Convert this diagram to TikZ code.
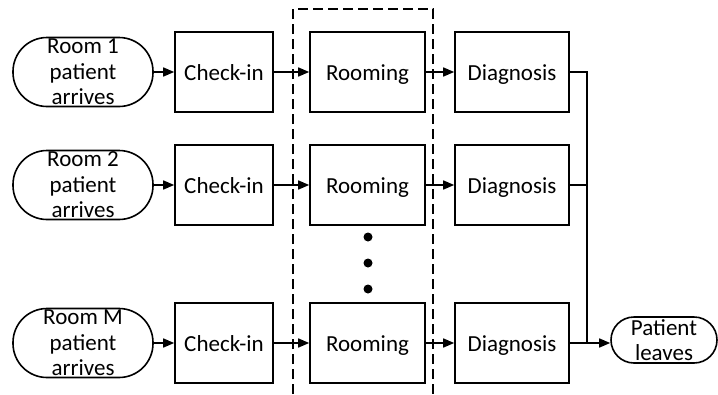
\documentclass[tikz,border=0pt]{standalone}
\usepackage{fontspec}
\setmainfont{Carlito}
\usetikzlibrary{arrows.meta}
\tikzset{
  lw/.style={line width=1.6pt},
  box/.style={draw, lw, minimum height=80pt, inner sep=0pt, text height=16pt, text depth=0pt, font=\fontsize{23}{25.5}\selectfont},
  term/.style={draw, lw, rounded corners=34pt, minimum width=140pt, minimum height=69pt, inner sep=0pt},
  termsmall/.style={draw, lw, rounded corners=23pt, minimum width=106pt, minimum height=46pt, inner sep=0pt},
  ttext/.style={align=center, inner sep=0pt, font=\fontsize{23}{25.5}\selectfont},
  arr/.style={lw, -{Triangle[length=11pt,width=9pt]}},
  conn/.style={lw},
  dbox/.style={lw, dash pattern=on 10pt off 5pt},
}
\begin{document}
\begin{tikzpicture}[x=1pt,y=-1pt]
\useasboundingbox (0,0) rectangle (718,394);
% dashed region
\draw[dbox] (293,394) -- (293,9) -- (433,9) -- (433,394);
% rows
\foreach \r/\y/\lab in {1/72/Room 1, 2/185/Room 2, 3/343/Room M}{
  \node[term] (s\r) at (83,\y) {};
  \node[ttext] (s\r t) at (s\r) {\lab\\patient\\arrives};
  \node[box, minimum width=98pt] (c\r) at (224,\y) {Check-in};
  \node[box, minimum width=115pt] (r\r) at (367.5,\y) {Rooming};
  \node[box, minimum width=114pt] (d\r) at (512,\y) {Diagnosis};
  \draw[arr] (s\r) -- (c\r);
  \draw[arr] (c\r) -- (r\r);
  \draw[arr] (r\r) -- (d\r);
}
% dots
\fill (368,237) circle (4.5pt);
\fill (368,263) circle (4.5pt);
\fill (368,289) circle (4.5pt);
% exit
\node[termsmall] (pl) at (664,340) {};
\node[ttext] (plt) at (pl) {Patient\\leaves};
\coordinate (j) at (587,343);
\draw[conn] (d1.east) -| (j);
\draw[conn] (d2.east) -- (d2.east -| j);
\draw[arr] (d3.east) -- (d3.east -| pl.west);
\end{tikzpicture}
\end{document}
